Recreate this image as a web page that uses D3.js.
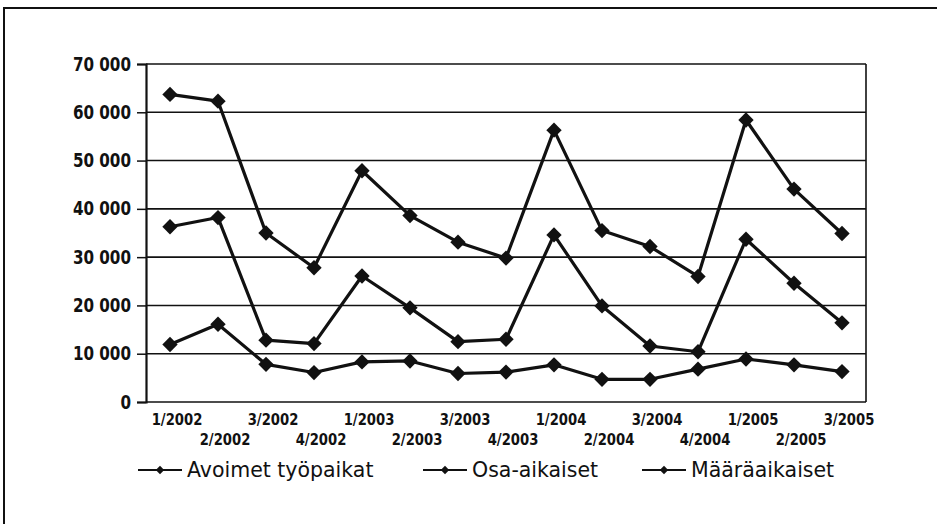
<!DOCTYPE html>
<html>
<head>
<meta charset="utf-8">
<script src="https://cdn.jsdelivr.net/npm/d3@7"></script>
<style>
  body { margin: 0; background: #fff; }
  svg { display: block; }
</style>
</head>
<body>
<div id="chart"></div>
<script>
const width = 937;
const height = 524;

// Quarters on the x axis
const quarters = ["1/2002", "2/2002", "3/2002", "4/2002", "1/2003", "2/2003", "3/2003", "4/2003",
                  "1/2004", "2/2004", "3/2004", "4/2004", "1/2005", "2/2005", "3/2005"];

// Series values
const avoimet = [63700, 62300, 35000, 27800, 47900, 38600, 33100, 29800,
                 56300, 35500, 32200, 26000, 58400, 44100, 34900];
const maaraaikaiset = [36300, 38200, 12800, 12100, 26100, 19500, 12500, 13000,
                       34600, 19900, 11600, 10400, 33700, 24600, 16400];
const osaaikaiset = [11900, 16100, 7800, 6100, 8300, 8500, 5900, 6200,
                     7700, 4700, 4700, 6800, 8900, 7700, 6300];

const yTicks = [0, 10000, 20000, 30000, 40000, 50000, 60000, 70000];
const legendLabels = ["Avoimet työpaikat", "Osa-aikaiset", "Määräaikaiset"];

const series = [avoimet, maaraaikaiset, osaaikaiset];

const font = "'DejaVu Sans', sans-serif";
const margin = { top: 64, right: 71, bottom: 122, left: 146 };
const squeeze = 0.76; // fake a condensed face

const x = d3.scaleBand()
    .domain(quarters)
    .range([margin.left, width - margin.right])
    .padding(0);

const y = d3.scaleLinear()
    .domain([0, 70000])
    .range([height - margin.bottom, margin.top]);

const fmt = v => d3.format(",")(v).replace(/,/g, " ");

const svg = d3.create("svg")
    .attr("width", width)
    .attr("height", height)
    .style("font-family", font);

// Outer frame (only top and left visible)
svg.append("path")
    .attr("d", `M4,${height} V8 H${width}`)
    .attr("fill", "none")
    .attr("stroke", "#111")
    .attr("stroke-width", 2);

// Gridlines
svg.append("g")
    .selectAll("line")
    .data(yTicks)
    .join("line")
    .attr("x1", margin.left)
    .attr("x2", width - margin.right)
    .attr("y1", d => y(d))
    .attr("y2", d => y(d))
    .attr("stroke", "#111")
    .attr("stroke-width", 1.6);

// Right border of the plot
svg.append("line")
    .attr("x1", width - margin.right)
    .attr("x2", width - margin.right)
    .attr("y1", y(70000))
    .attr("y2", y(0))
    .attr("stroke", "#111")
    .attr("stroke-width", 1.6);

// Y axis
const yAxis = svg.append("g")
    .attr("transform", `translate(${margin.left},0)`)
    .call(d3.axisLeft(y).tickValues(yTicks).tickFormat(fmt).tickSize(9).tickPadding(6));
yAxis.select(".domain").attr("stroke", "#111").attr("stroke-width", 2.2);
yAxis.selectAll(".tick line").attr("stroke", "#111").attr("stroke-width", 1.5);
yAxis.selectAll(".tick text")
    .attr("fill", "#111")
    .attr("x", -15 / squeeze)
    .attr("dy", "0.3em")
    .attr("transform", `scale(${squeeze},1)`)
    .style("font-family", font)
    .style("font-size", "20px")
    .style("font-weight", "bold");

// X labels, staggered in two rows
svg.append("g")
    .selectAll("text")
    .data(quarters)
    .join("text")
    .attr("transform", (d, i) =>
        `translate(${x(d) + x.bandwidth() / 2 + 7},${i % 2 === 0 ? 425 : 445}) scale(0.8,1)`)
    .attr("text-anchor", "middle")
    .attr("font-size", "16.5px")
    .attr("font-weight", "bold")
    .attr("fill", "#111")
    .text(d => d);

// Lines and markers
const line = d3.line()
    .x((d, i) => x(quarters[i]) + x.bandwidth() / 2)
    .y(d => y(d));

const diamond = d3.symbol().type(d3.symbolDiamond2).size(150);

series.forEach(values => {
    svg.append("path")
        .datum(values)
        .attr("d", line)
        .attr("fill", "none")
        .attr("stroke", "#111")
        .attr("stroke-width", 3.2)
        .attr("stroke-linejoin", "round");

    svg.append("g")
        .selectAll("path")
        .data(values)
        .join("path")
        .attr("d", diamond)
        .attr("transform", (d, i) => `translate(${x(quarters[i]) + x.bandwidth() / 2},${y(d)})`)
        .attr("fill", "#111");
});

// Legend
const legendX = [138, 423, 642];
const legend = svg.append("g")
    .selectAll("g")
    .data(legendLabels)
    .join("g")
    .attr("transform", (d, i) => `translate(${legendX[i]},470)`);

legend.append("line")
    .attr("x1", 0)
    .attr("x2", 44)
    .attr("stroke", "#111")
    .attr("stroke-width", 2.2);

legend.append("path")
    .attr("d", d3.symbol().type(d3.symbolDiamond2).size(45))
    .attr("transform", "translate(22,0)")
    .attr("fill", "#111");

legend.append("text")
    .attr("x", 49)
    .attr("y", 7)
    .attr("font-size", "20.5px")
    .attr("fill", "#111")
    .text(d => d);

document.querySelector("#chart").append(svg.node());
</script>
</body>
</html>
